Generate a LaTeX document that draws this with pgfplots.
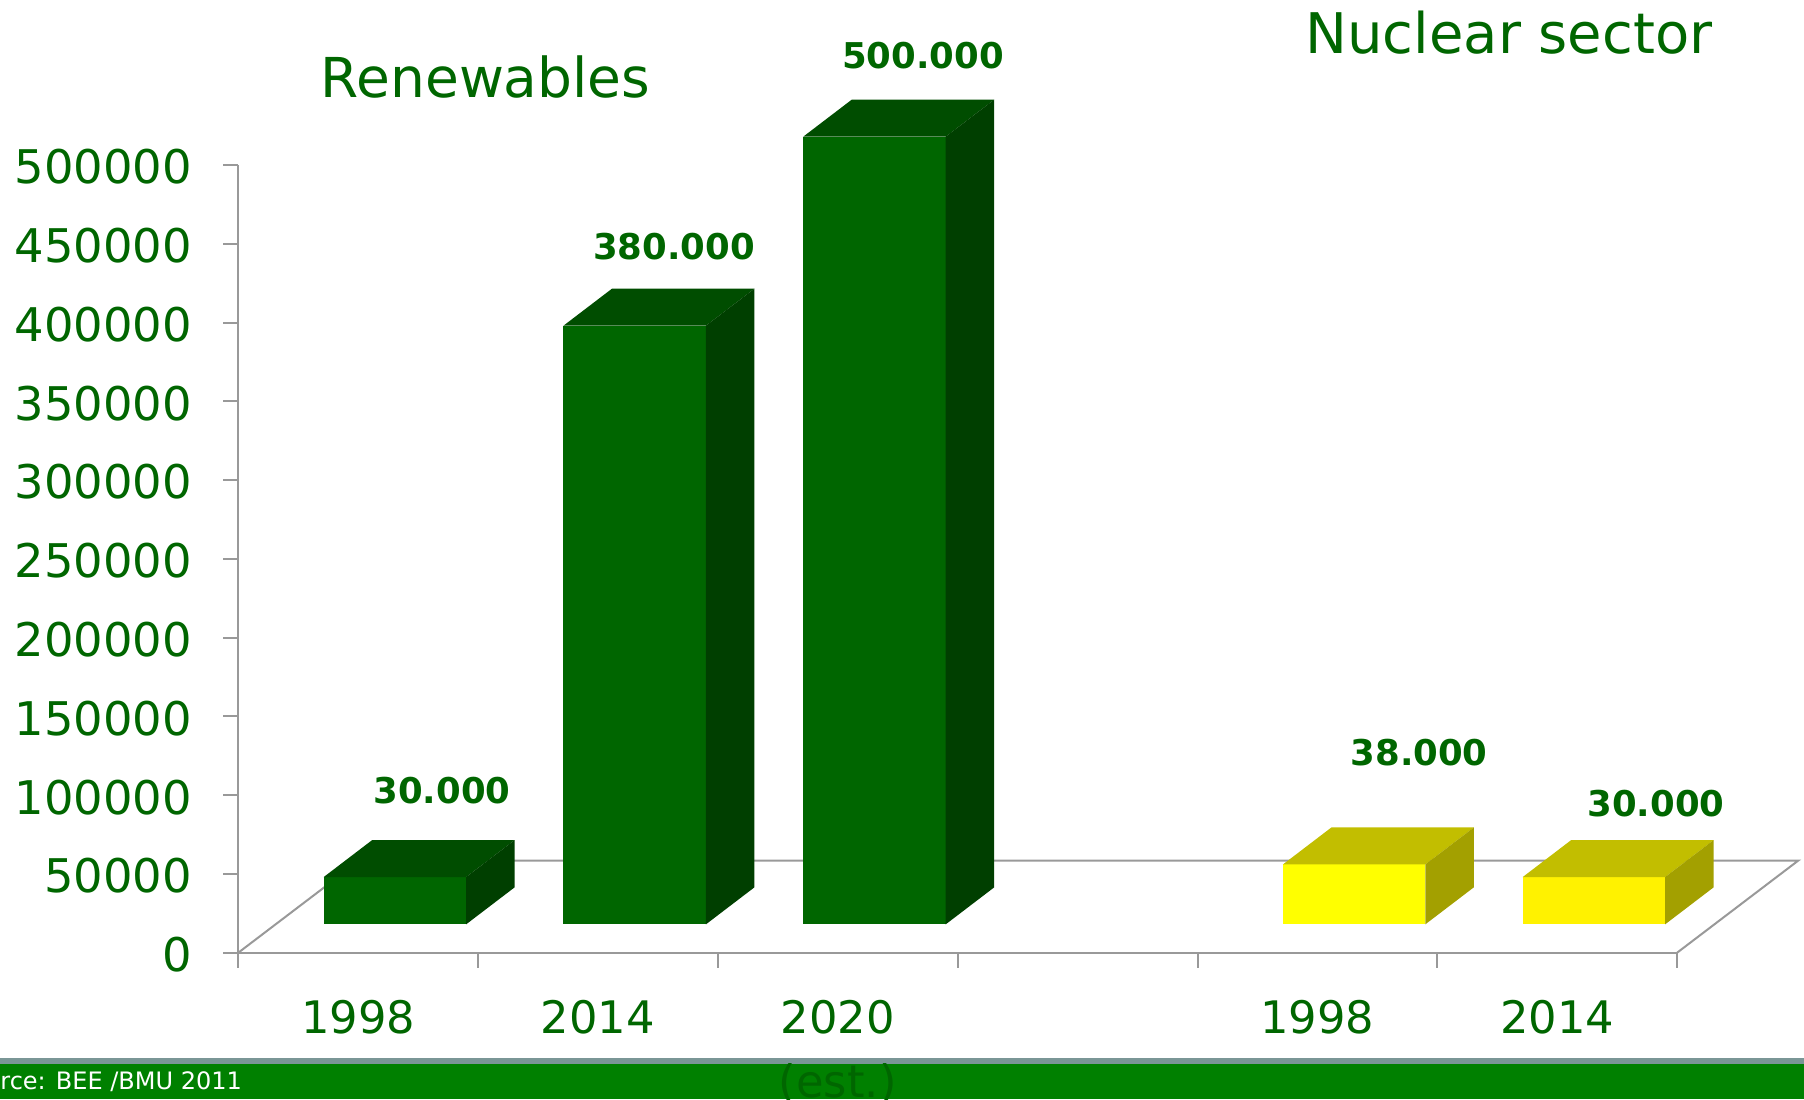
\documentclass[border=0pt]{standalone}
\usepackage{fontspec}
\setmainfont{DejaVu Sans}
\usepackage{pgfplots}
\usepackage{pgfplotstable}
\pgfplotsset{compat=1.18}
\definecolor{tgreen}{HTML}{006600}
\definecolor{gfront}{HTML}{006600}
\definecolor{gtop}{HTML}{004D00}
\definecolor{gside}{HTML}{003F00}
\definecolor{yfront}{HTML}{FFFF00}
\definecolor{yfrontb}{HTML}{FFF200}
\definecolor{ytop}{HTML}{C2BE00}
\definecolor{yside}{HTML}{A3A000}
\definecolor{axgray}{HTML}{999999}
\definecolor{bandgreen}{HTML}{008000}
\definecolor{bandgray}{HTML}{7A9696}

% unit square used to build each face of a box
\pgfplotstableread{
a b
0 0
1 0
1 1
0 1
}\unitsq

% #1 category centre, #2 value, #3 front, #4 top, #5 side colour
\newcommand\cube[5]{%
 \addplot[fill=#3, draw=none] table[x expr={#1-0.144+0.594*\thisrow{a}}, y expr={18000+#2*\thisrow{b}}]{\unitsq};
 \addplot[fill=#4, draw=none] table[x expr={#1-0.144+0.594*\thisrow{a}+0.2023*\thisrow{b}}, y expr={18000+#2+23490*\thisrow{b}}]{\unitsq};
 \addplot[fill=#5, draw=none] table[x expr={#1+0.45+0.2023*\thisrow{b}}, y expr={18000+#2*\thisrow{a}+23490*\thisrow{b}}]{\unitsq};
}

\begin{document}
\begin{tikzpicture}
\useasboundingbox (0,0) rectangle (902pt,549.5pt);
\clip (0,0) rectangle (902pt,549.5pt);
\fill[bandgreen] (0,0) rectangle (902pt,17.5pt);
\fill[bandgray] (0,17.5pt) rectangle (902pt,20.65pt);
\node[anchor=base west, inner sep=0pt, text=white, font=\fontsize{12}{14}\selectfont] at (0,5pt) {rce: BEE /BMU 2011};
\node[anchor=base, inner sep=0pt, text=tgreen, font=\fontsize{27.5}{33}\selectfont] at (242.75pt,500.5pt) {Renewables};
\node[anchor=base, inner sep=0pt, text=tgreen, font=\fontsize{28}{33}\selectfont] at (754.5pt,522.85pt) {Nuclear sector};
\begin{axis}[
 scale only axis, width=719.4pt, height=393.85pt,
 at={(119.15pt,73.15pt)}, anchor=south west,
 xmin=0, xmax=6, ymin=0, ymax=500000,
 clip=false,
 axis lines=left,
 axis line style={-, draw=axgray, line width=1pt},
 tick align=outside,
 major tick length=7.5pt,
 tick style={axgray, line width=1pt},
 ytick={0,50000,...,500000},
 scaled y ticks=false,
 yticklabel style={font=\fontsize{23.2}{28}\selectfont, text=tgreen, anchor=east, inner sep=0pt, xshift=-15.5pt, yshift=-1pt},
 xtick={0,1,2,3,4,5,6},
 xticklabels={},
 extra x ticks={0.5,1.5,2.5,4.5,5.5},
 extra x tick labels={1998,2014,{2020\\(est.)},1998,2014},
 extra x tick style={major tick length=0pt, xticklabel style={font=\fontsize{22.4}{32}\selectfont, text=tgreen, align=center, anchor=north, inner sep=0pt, yshift=-23.7pt}},
 /pgf/number format/assume math mode=true,
 /pgf/number format/fixed,
 /pgf/number format/1000 sep={},
]
% floor outline (back and sides)
\addplot[axgray, line width=1pt] coordinates {(0,0) (0.5046,58400) (6.5046,58400) (6,0)};
% Renewables
\cube{0.5}{30000}{gfront}{gtop}{gside}
\cube{1.5}{380000}{gfront}{gtop}{gside}
\cube{2.5}{500000}{gfront}{gtop}{gside}
% Nuclear sector
\cube{4.5}{38000}{yfront}{ytop}{yside}
\cube{5.5}{30000}{yfrontb}{ytop}{yside}
% value labels
\begin{scope}[every node/.style={anchor=base, inner sep=0pt, text=tgreen, font=\bfseries\fontsize{17.75}{21}\selectfont}]
\node at (axis cs:0.849,94835) {30.000};
\node at (axis cs:1.817,440330) {380.000};
\node at (axis cs:2.855,561380) {500.000};
\node at (axis cs:4.924,119145) {38.000};
\node at (axis cs:5.912,86330) {30.000};
\end{scope}
\end{axis}
\end{tikzpicture}
\end{document}
